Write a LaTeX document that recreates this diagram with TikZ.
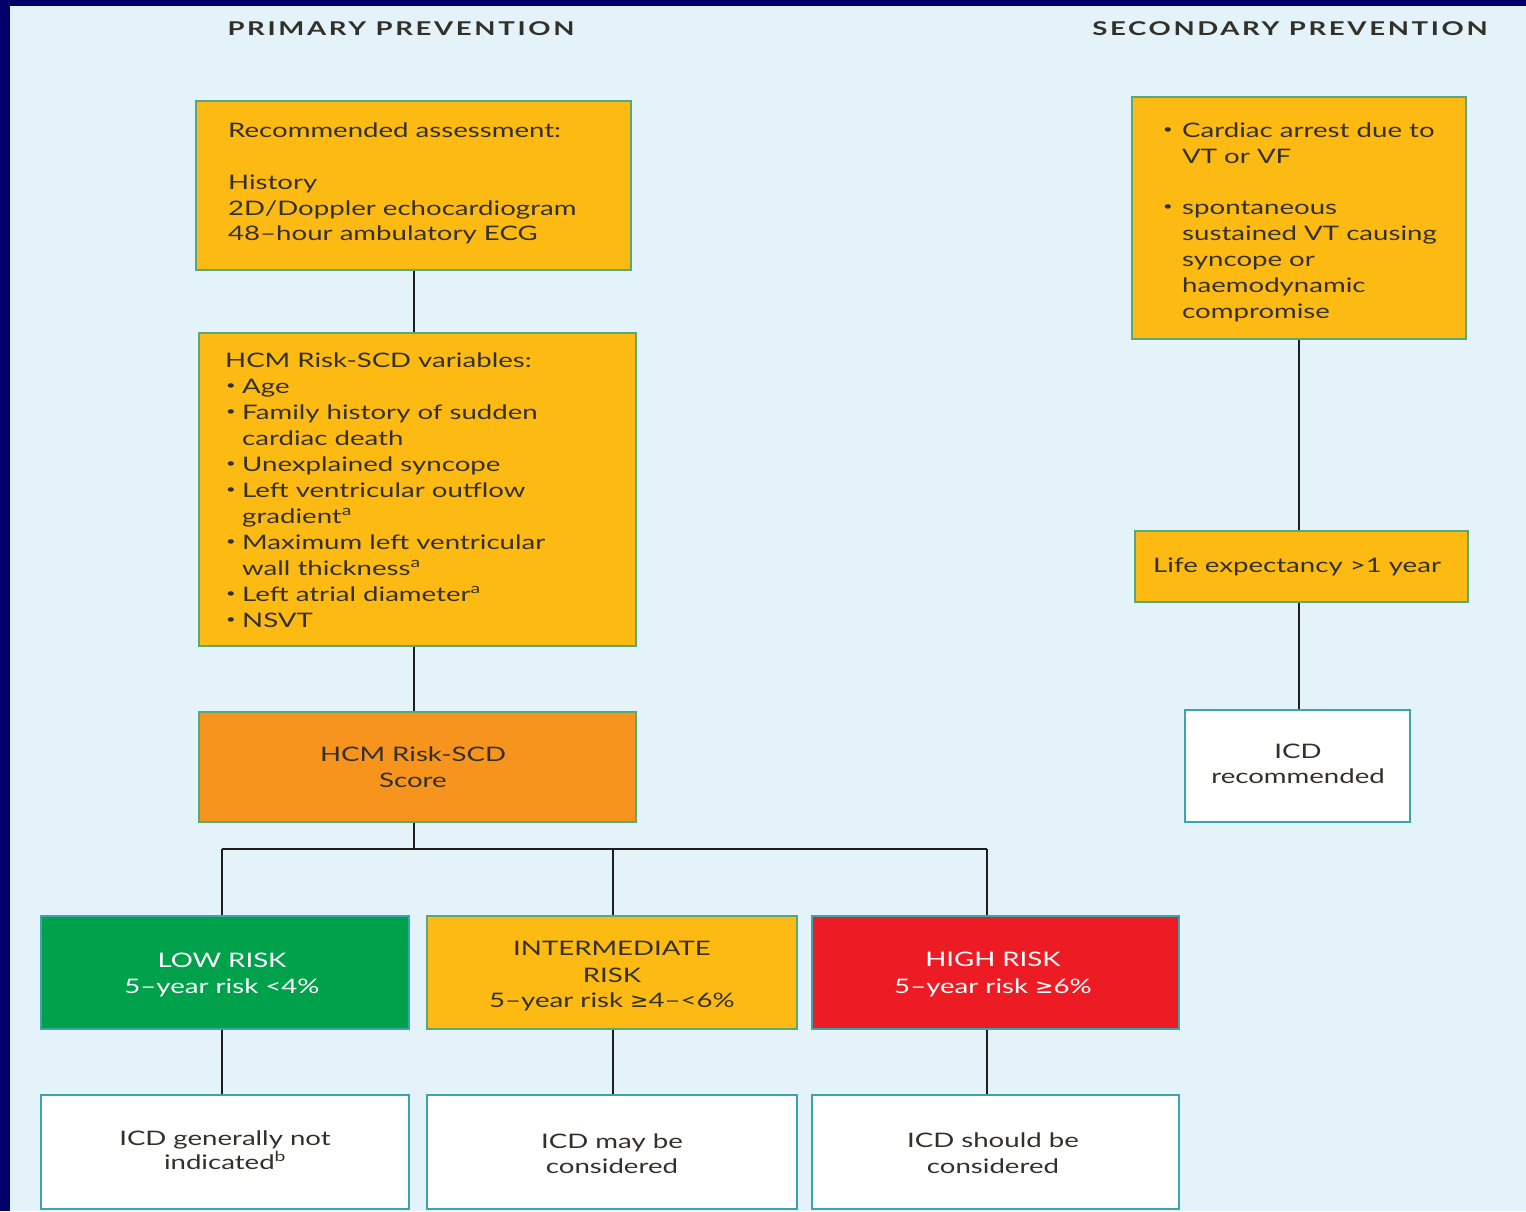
\documentclass[tikz,border=0pt]{standalone}
\usepackage{fontspec}
\setmainfont[FakeStretch=1.38]{Lato}
\newfontfamily\headfont[FakeStretch=1.45,LetterSpace=14]{Lato}
\newfontfamily\symfont[FakeStretch=1.1]{DejaVu Sans}
\newcommand{\mygeq}{{\symfont ≥}}
\definecolor{navy}{HTML}{03006B}
\definecolor{bgblue}{HTML}{E3F3F9}
\definecolor{yel}{HTML}{FDBA12}
\definecolor{orng}{HTML}{F7941D}
\definecolor{grn}{HTML}{00A14B}
\definecolor{rd}{HTML}{ED1C24}
\definecolor{bordY}{HTML}{5AA777}
\definecolor{bordW}{HTML}{3AA5AD}
\definecolor{txt}{HTML}{333028}
\definecolor{conn}{HTML}{1E1E1E}
\tikzset{
  box/.style={draw=bordY, line width=2pt, inner sep=0pt},
  wbox/.style={draw=bordW, line width=2pt, inner sep=0pt, fill=white},
  tl/.style={inner sep=0pt, anchor=base west, text=txt, font=\fontsize{20}{25}\selectfont},
  tc/.style={inner sep=0pt, anchor=base, text=txt, font=\fontsize{20}{25}\selectfont},
  bul/.style={inner sep=0pt, anchor=base west, text=txt, font=\fontsize{12}{12}\selectfont},
  hd/.style={inner sep=0pt, anchor=base, text=txt, font=\fontsize{19}{24}\headfont\bfseries},
  conline/.style={draw=conn, line width=2.5pt},
}
\begin{document}
\begin{tikzpicture}[x=1pt,y=-1pt]
\useasboundingbox (0,0) rectangle (1526,1211);
\fill[navy] (0,0) rectangle (1526,1211);
\fill[bgblue] (10,6) rectangle (1526,1211);

% headings
\node[hd] (h1) at (401,35) {PRIMARY PREVENTION};
\node[hd] (h2) at (1290,35) {SECONDARY PREVENTION};

% boxes
\node[box, fill=yel, minimum width=435pt, minimum height=169pt] (A) at (413.5,185.5) {};
\node[box, fill=yel, minimum width=437pt, minimum height=313pt] (B) at (417.5,489.5) {};
\node[box, fill=orng, minimum width=437pt, minimum height=110pt] (C) at (417.5,767) {};
\node[box, draw=bordW, fill=grn, minimum width=368pt, minimum height=113pt] (L) at (225,972.5) {};
\node[box, fill=yel, minimum width=370pt, minimum height=113pt] (I) at (612,972.5) {};
\node[box, draw=bordW, fill=rd, minimum width=367pt, minimum height=113pt] (H) at (995.5,972.5) {};
\node[wbox, minimum width=368pt, minimum height=114pt] (LB) at (225,1152) {};
\node[wbox, minimum width=370pt, minimum height=114pt] (IB) at (612,1152) {};
\node[wbox, minimum width=367pt, minimum height=114pt] (HB) at (995.5,1152) {};
\node[box, fill=yel, minimum width=334pt, minimum height=242pt] (S1) at (1299,218) {};
\node[box, fill=yel, minimum width=333pt, minimum height=71pt] (S2) at (1301.5,566.5) {};
\node[wbox, minimum width=225pt, minimum height=112pt] (S3) at (1297.5,766) {};

% connectors
\coordinate (tr) at (414,0);
\coordinate (br) at (414,849);
\coordinate (bl) at (222,849);
\coordinate (bm) at (613,849);
\coordinate (bh) at (987,849);
\coordinate (sx) at (1299,0);
\draw[conline] (A.south -| tr) -- (B.north -| tr);
\draw[conline] (B.south -| tr) -- (C.north -| tr);
\draw[conline] (C.south -| br) -- (br);
\draw[conline] (bl) -- (bh);
\draw[conline] (bl) -- (bl |- L.north);
\draw[conline] (bm) -- (bm |- I.north);
\draw[conline] (bh) -- (bh |- H.north);
\draw[conline] (L.south -| bl) -- (LB.north -| bl);
\draw[conline] (I.south -| bm) -- (IB.north -| bm);
\draw[conline] (H.south -| bh) -- (HB.north -| bh);
\draw[conline] (S1.south -| sx) -- (S2.north -| sx);
\draw[conline] (S2.south -| sx) -- (S3.north -| sx);

% box A text
\node[tl] (a1) at (228,137) {Recommended assessment:};
\node[tl] (a2) at (228,189) {History};
\node[tl] (a3) at (228,215) {2D/Doppler echocardiogram};
\node[tl] (a4) at (228,240) {48–hour ambulatory ECG};

% box B text
\node[tl] (b0) at (225,367) {HCM Risk-SCD variables:};
\foreach \yy/\bu/\s [count=\i] in {
  393/1/Age,
  419/1/Family history of sudden,
  445/0/cardiac death,
  471/1/Unexplained syncope,
  497/1/Left ventricular outflow,
  523/0/gradient\textsuperscript{a},
  549/1/Maximum left ventricular,
  575/0/wall thickness\textsuperscript{a},
  601/1/Left atrial diameter\textsuperscript{a},
  627/1/NSVT}{
  \node[tl] (bt\i) at (242,\yy) {\s};
  \ifnum\bu=1 \node[bul] (bb\i) at (226,\yy-4) {\textbullet}; \fi
}

% secondary box text
\foreach \yy/\bu/\s [count=\i] in {
  137/1/Cardiac arrest due to,
  163/0/VT or VF,
  214/1/spontaneous,
  240/0/sustained VT causing,
  266/0/syncope or,
  292/0/haemodynamic,
  318/0/compromise}{
  \node[tl] (st\i) at (1182,\yy) {\s};
  \ifnum\bu=1 \node[bul] (sb\i) at (1163,\yy-4) {\textbullet}; \fi
}
\node[tl] (s2t) at (1153,572) {Life expectancy >1 year};
\node[tc] (s3a) at (1298,758) {ICD};
\node[tc] (s3b) at (1298,783) {recommended};

% score
\node[tc] (c1) at (413,761) {HCM Risk-SCD};
\node[tc] (c2) at (413,787) {Score};

% risk boxes
\node[tc, text=white] (l1) at (222,967) {LOW RISK};
\node[tc, text=white] (l2) at (222,993) {5–year risk <4\%};
\node[tc] (i1) at (612,955) {INTERMEDIATE};
\node[tc] (i2) at (612,982) {RISK};
\node[tc] (i3) at (612,1007) {5–year risk \mygeq4–<6\%};
\node[tc, text=white] (r1) at (993,966) {HIGH RISK};
\node[tc, text=white] (r2) at (993,993) {5–year risk \mygeq6\%};

% bottom boxes
\node[tc] (lb1) at (225,1145) {ICD generally not};
\node[tc] (lb2) at (225,1169) {indicated\textsuperscript{b}};
\node[tc] (ib1) at (612,1148) {ICD may be};
\node[tc] (ib2) at (612,1173) {considered};
\node[tc] (hb1) at (993,1147) {ICD should be};
\node[tc] (hb2) at (993,1173) {considered};
\end{tikzpicture}
\end{document}
